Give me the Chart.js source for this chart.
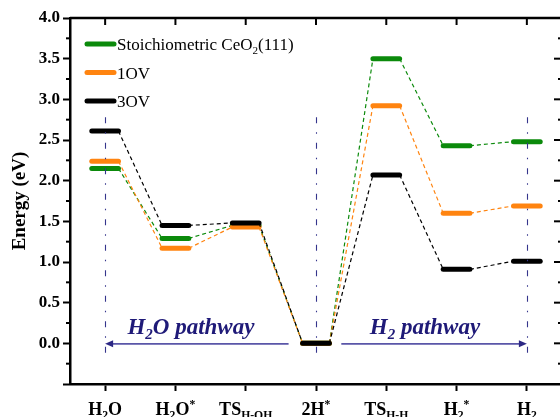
<!DOCTYPE html>
<html>
<head>
<meta charset="utf-8">
<script src="https://cdn.jsdelivr.net/npm/chart.js@4.4.1/dist/chart.umd.min.js"></script>
<style>
  html, body { margin: 0; padding: 0; background: #fff; overflow: hidden; }
  #wrap { width: 565px; height: 417px; }
</style>
</head>
<body>
<div id="wrap"><canvas id="chart" width="565" height="417"></canvas></div>
<script>
// reaction steps (x axis), "_{}" = subscript, "^{}" = superscript
const steps = ["H_{2}O", "H_{2}O^{*}", "TS_{H-OH}", "2H^{*}", "TS_{H-H}", "H_{2}^{*}", "H_{2}"];

// relative energies (eV)
const stoichEnergy = [2.15, 1.29, 1.45, 0.00, 3.50, 2.43, 2.48];
const ov1Energy    = [2.24, 1.17, 1.43, 0.00, 2.92, 1.60, 1.69];
const ov3Energy    = [2.61, 1.45, 1.48, 0.00, 2.07, 0.91, 1.01];

const seriesNames  = ["Stoichiometric CeO_{2}(111)", "1OV", "3OV"];
const seriesColors = ["#0b8a0b", "#ff8410", "#000000"];

const yTicks = [-0.5, 0, 0.5, 1, 1.5, 2, 2.5, 3, 3.5, 4];

// pathway annotations
const pathwayLabels = ["H_{2}O pathway", "H_{2} pathway"];
const pathwayLabelX = [1.22, 4.55];
const pathwayArrows = [[2.61, 0], [3.36, 6]]; // [tail, head] in step units
const guideSteps = [0, 3, 6];

const FONT = "'Liberation Serif', 'Times New Roman', serif";
const HALF = 0.19;

function levelPoints(vals) {
  const pts = [];
  vals.forEach((v, i) => {
    pts.push({ x: i - HALF, y: v }, { x: i + HALF, y: v });
  });
  return pts;
}

function parseRich(str) {
  const parts = [];
  const re = /([_^])\{([^}]*)\}|([^_^]+)/g;
  let m;
  while ((m = re.exec(str))) {
    if (m[3]) parts.push({ text: m[3], mode: 0 });
    else parts.push({ text: m[2], mode: m[1] === "_" ? 1 : -1 });
  }
  return parts;
}

function drawRich(ctx, str, x, y, size, style, align) {
  const parts = parseRich(str);
  const fontFor = p => `${style} ${p.mode ? size * 0.65 : size}px ${FONT}`.trim();
  let w = 0;
  parts.forEach(p => {
    ctx.font = fontFor(p);
    p.w = ctx.measureText(p.text).width;
    w += p.w;
  });
  let cx = align === "center" ? x - w / 2 : x;
  ctx.textAlign = "left";
  ctx.textBaseline = "alphabetic";
  parts.forEach(p => {
    ctx.font = fontFor(p);
    const dy = p.mode === 1 ? size * 0.22 : p.mode === -1 ? -size * 0.4 : 0;
    ctx.fillText(p.text, cx, y + dy);
    cx += p.w;
  });
}

function seg(ctx, x1, y1, x2, y2) {
  ctx.beginPath();
  ctx.moveTo(x1, y1);
  ctx.lineTo(x2, y2);
  ctx.stroke();
}

const decorPlugin = {
  id: "decor",
  afterDatasetsDraw(chart) {
    const { ctx, scales: { x, y } } = chart;
    ctx.save();

    // dash-dot guides
    ctx.strokeStyle = "#35358c";
    ctx.lineWidth = 1.1;
    ctx.setLineDash([6, 9, 1.5, 9]);
    guideSteps.forEach(s => {
      const px = Math.round(x.getPixelForValue(s)) + 0.5;
      seg(ctx, px, y.getPixelForValue(2.78), px, y.getPixelForValue(-0.2));
    });
    ctx.setLineDash([]);

    // arrows
    const y0 = y.getPixelForValue(0) + 0.5;
    pathwayArrows.forEach(([from, to]) => {
      const x1 = x.getPixelForValue(from);
      const x2 = x.getPixelForValue(to);
      const dir = Math.sign(x2 - x1);
      ctx.strokeStyle = "#5a56a8";
      ctx.lineWidth = 1.6;
      seg(ctx, x1, y0, x2 - dir * 6, y0);
      ctx.fillStyle = "#2c2784";
      ctx.beginPath();
      ctx.moveTo(x2, y0);
      ctx.lineTo(x2 - dir * 8, y0 - 3.5);
      ctx.lineTo(x2 - dir * 8, y0 + 3.5);
      ctx.closePath();
      ctx.fill();
    });

    // pathway labels
    ctx.fillStyle = "#1f1a78";
    pathwayLabels.forEach((t, i) => {
      drawRich(ctx, t, x.getPixelForValue(pathwayLabelX[i]), y.getPixelForValue(0.11), 23, "italic bold", "center");
    });
    ctx.restore();
  },
  afterDraw(chart) {
    const { ctx, chartArea: a, scales: { x, y } } = chart;
    ctx.save();
    ctx.strokeStyle = "#000";

    // top and right frame
    ctx.lineWidth = 2.5;
    ctx.beginPath();
    ctx.moveTo(a.left, a.top);
    ctx.lineTo(a.right, a.top);
    ctx.lineTo(a.right, a.bottom);
    ctx.stroke();

    // top ticks (inward)
    ctx.lineWidth = 2;
    steps.forEach((_, i) => {
      const px = x.getPixelForValue(i);
      seg(ctx, px, a.top, px, a.top + 7);
    });

    // right ticks (inward) and left minor ticks
    yTicks.forEach((v, i) => {
      const py = y.getPixelForValue(v);
      seg(ctx, a.right - 8, py, a.right, py);
      if (i < yTicks.length - 1) {
        const pm = y.getPixelForValue((v + yTicks[i + 1]) / 2);
        seg(ctx, a.right - 4, pm, a.right, pm);
        seg(ctx, a.left - 4, pm, a.left, pm);
      }
    });

    // x labels with sub/superscripts
    ctx.fillStyle = "#000";
    steps.forEach((s, i) => {
      drawRich(ctx, s, x.getPixelForValue(i), a.bottom + 31, 18, "bold", "center");
    });

    // legend inside the plot
    seriesNames.forEach((name, i) => {
      const ly = a.top + 26 + i * 28.5;
      ctx.strokeStyle = seriesColors[i];
      ctx.lineWidth = 5;
      ctx.lineCap = "round";
      seg(ctx, a.left + 17, ly, a.left + 44, ly);
      ctx.fillStyle = "#000";
      drawRich(ctx, name, a.left + 47, ly + 6, 17, "", "left");
    });
    ctx.restore();
  }
};

function makeDataset(vals, color, order) {
  return {
    data: levelPoints(vals),
    borderColor: color,
    backgroundColor: color,
    pointRadius: 0,
    tension: 0,
    order: order,
    segment: {
      borderWidth: c => (c.p0DataIndex % 2 === 0 ? 5 : 1.2),
      borderDash: c => (c.p0DataIndex % 2 === 0 ? [] : [4, 3]),
      borderCapStyle: c => (c.p0DataIndex % 2 === 0 ? "round" : "butt")
    }
  };
}

new Chart(document.getElementById("chart"), {
  type: "line",
  data: {
    datasets: [
      makeDataset(stoichEnergy, seriesColors[0], 2),
      makeDataset(ov1Energy, seriesColors[1], 1),
      makeDataset(ov3Energy, seriesColors[2], 0)
    ]
  },
  options: {
    responsive: false,
    animation: false,
    layout: { padding: { top: 18, right: 3, left: 0, bottom: 0 } },
    plugins: { legend: { display: false }, tooltip: { enabled: false } },
    scales: {
      x: {
        type: "linear",
        min: -0.5,
        max: 6.5,
        afterBuildTicks: s => { s.ticks = steps.map((_, i) => ({ value: i })); },
        afterFit: s => { s.height = 33; },
        ticks: { callback: () => "" },
        border: { display: true, width: 2.5, color: "#000" },
        grid: { drawOnChartArea: false, drawTicks: true, tickLength: 7, tickWidth: 2, color: "#000" }
      },
      y: {
        min: -0.5,
        max: 4,
        afterBuildTicks: s => { s.ticks = yTicks.map(v => ({ value: v })); },
        afterFit: s => { s.width = 70; },
        ticks: {
          padding: 3,
          color: "#000",
          font: { family: FONT, size: 17, weight: "bold" },
          callback: v => (v < 0 ? "" : v.toFixed(1))
        },
        border: { display: true, width: 2.5, color: "#000" },
        grid: { drawOnChartArea: false, drawTicks: true, tickLength: 7, tickWidth: 2, color: "#000" },
        title: {
          display: true,
          text: "Energy (eV)",
          color: "#000",
          padding: { top: 9, bottom: 0 },
          font: { family: FONT, size: 19, weight: "bold" }
        }
      }
    }
  },
  plugins: [decorPlugin]
});
</script>
</body>
</html>
